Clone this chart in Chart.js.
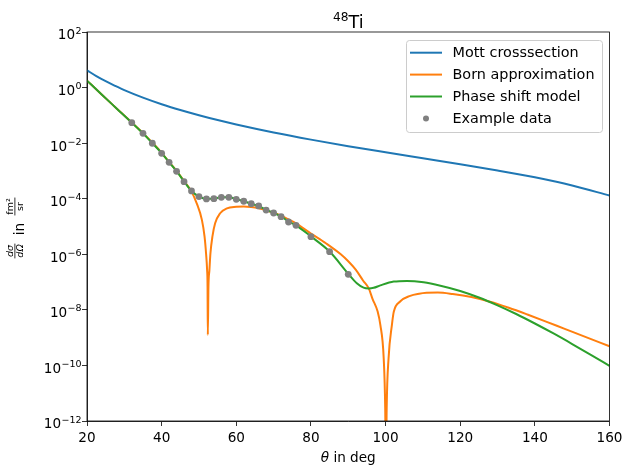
<!DOCTYPE html>
<html lang="en">
<head>
<meta charset="UTF-8">
<title>48Ti</title>
<style>
  body { margin: 0; background: #fff; }
  canvas { display: block; }
</style>
</head>
<body>
<canvas id="grafico" width="625" height="468"></canvas>

<script src="https://cdn.jsdelivr.net/npm/chart.js"></script>
<script>
// valores (theta en grados, seccion eficaz en fm^2/sr)
const mottTheta  = [20, 22.5, 25, 27.5, 30, 35, 40, 45, 50, 55, 60, 70, 80, 90, 100, 110, 120, 130, 140, 150, 160];
const mottValues = [4.2, 2.59, 1.70, 1.16, 0.81, 0.435, 0.252, 0.156, 0.101, 0.0676, 0.0469, 0.0242, 0.0134,
                    0.0078, 0.0047, 0.00286, 0.00174, 0.00104, 0.00059, 0.00030, 0.00013];

const bornTheta  = [20, 24, 28, 32, 35, 38, 40, 42, 44, 46, 48, 49.4, 50.8, 51.5, 51.9, 52.18, 52.3, 52.37,
                    52.54, 52.8, 53.07, 53.6, 54.33, 55.67, 57.5, 60, 62, 64, 66, 68, 70, 72, 74, 76, 80, 84,
                    88, 90, 92, 94, 95.5, 96.5, 97.9, 98.6, 99.5, 99.9, 100.1, 100.3, 100.8, 101.7, 102.2,
                    103.9, 106.6, 109, 111, 114, 118, 123, 128, 133, 138, 143, 148, 153, 160];
const bornValues = [1.78, 0.55, 0.174, 0.055, 0.0229, 8.9e-3, 4.5e-3, 2.1e-3, 1.0e-3, 4.3e-4, 1.8e-4, 6.8e-5,
                    1.7e-5, 4.3e-6, 1.07e-6, 2.7e-7, 6.8e-8, 1.26e-9, 6.8e-8, 2.7e-7, 1.07e-6, 4.3e-6, 1.3e-5,
                    3.0e-5, 4.5e-5, 5.1e-5, 5.25e-5, 5.0e-5, 4.5e-5, 3.8e-5, 3.1e-5, 2.45e-5, 1.8e-5, 1.29e-5,
                    5.6e-6, 2.5e-6, 1.0e-6, 5.6e-7, 2.8e-7, 1.12e-7, 5.9e-8, 2.5e-8, 8.5e-9, 2.9e-9, 1.8e-10,
                    3e-12, 1e-14, 3e-12, 1.8e-10, 2.9e-9, 8.5e-9, 2.0e-8, 3.2e-8, 3.8e-8, 4.1e-8, 4.2e-8,
                    3.72e-8, 2.9e-8, 1.96e-8, 1.19e-8, 6.8e-9, 3.78e-9, 2.07e-9, 1.14e-9, 4.9e-10];

const phaseTheta  = [20, 24, 28, 32, 35, 37.5, 40, 42, 44, 46, 48, 50, 52, 54, 56, 58, 60, 62, 64, 66, 68, 70,
                     72, 74, 76, 80, 85, 90, 92.3, 94.1, 95.5, 96.8, 98.6, 102.2, 105.7, 110.2, 114.7, 120,
                     125, 130, 135, 140, 145, 150, 155, 160];
const phaseValues = [1.78, 0.55, 0.174, 0.055, 0.0226, 0.01, 4.4e-3, 2.04e-3, 9.8e-4, 4.2e-4, 1.9e-4, 1.2e-4,
                     1.0e-4, 1.02e-4, 1.12e-4, 1.12e-4, 9.8e-5, 8.1e-5, 6.6e-5, 5.4e-5, 4.0e-5, 3.1e-5, 2.3e-5,
                     1.5e-5, 1.1e-5, 4.4e-6, 1.26e-6, 2.0e-7, 9.1e-8, 6.3e-8, 5.9e-8, 6.2e-8, 7.6e-8, 1.04e-7,
                     1.1e-7, 9.8e-8, 7.4e-8, 4.8e-8, 2.79e-8, 1.46e-8, 7.1e-9, 3.23e-9, 1.41e-9, 5.9e-10,
                     2.41e-10, 9.7e-11];

const dataTheta  = [32, 35, 37.5, 40, 42, 44, 46, 48, 50, 52, 54, 56, 58, 60, 62, 64, 66, 68, 70, 72, 74, 76, 80, 85, 90];
const dataValues = [0.0545, 0.0226, 9.9e-3, 4.3e-3, 2.04e-3, 9.7e-4, 4.1e-4, 1.9e-4, 1.19e-4, 9.8e-5, 1.0e-4,
                    1.12e-4, 1.12e-4, 9.5e-5, 8.1e-5, 6.6e-5, 5.5e-5, 3.9e-5, 3.06e-5, 2.26e-5, 1.45e-5, 1.1e-5,
                    4.3e-6, 1.24e-6, 1.9e-7];

const seriesLabels = ['Mott crosssection', 'Born approximation', 'Phase shift model', 'Example data'];
const xTicks = [20, 40, 60, 80, 100, 120, 140, 160];
const yTicks = [1e2, 1e0, 1e-2, 1e-4, 1e-6, 1e-8, 1e-10, 1e-12];
const yTickExponents = ['2', '0', '\u22122', '\u22124', '\u22126', '\u22128', '\u221210', '\u221212'];

const FONT = '"DejaVu Sans", sans-serif';

function pares(xs, ys) {
  return xs.map((x, i) => ({ x: x, y: ys[i] }));
}

function fraccion(ctx, cx, arriba, abajo, estilo) {
  ctx.font = estilo + '9.5px ' + FONT;
  const w = Math.max(ctx.measureText(arriba).width, ctx.measureText(abajo).width) + 1.5;
  ctx.textAlign = 'center';
  ctx.fillText(arriba, cx, -10.2);
  ctx.fillText(abajo, cx, -0.8);
  ctx.fillRect(cx - w / 2, -9.0, w, 0.8);
}

const decoraciones = {
  id: 'decoraciones',
  afterDraw(chart) {
    const ctx = chart.ctx;
    const area = chart.chartArea;
    const yScale = chart.scales.y;
    const cx = (area.left + area.right) / 2;
    ctx.save();

    // marco
    ctx.strokeStyle = '#000';
    ctx.lineWidth = 0.8;
    ctx.strokeRect(area.left, area.top, area.right - area.left, area.bottom - area.top);

    // etiquetas eje y: 10^n
    ctx.fillStyle = '#000';
    ctx.textBaseline = 'alphabetic';
    ctx.textAlign = 'left';
    yTicks.forEach((v, i) => {
      const py = yScale.getPixelForValue(v);
      const right = area.left - 5.5;
      ctx.font = '9.5px ' + FONT;
      const expW = ctx.measureText(yTickExponents[i]).width;
      ctx.fillText(yTickExponents[i], right - expW, py + 1.5);
      ctx.font = '13.6px ' + FONT;
      const baseW = ctx.measureText('10').width;
      ctx.fillText('10', right - expW - baseW - 0.3, py + 7.4);
    });

    // titulo
    ctx.font = '17.5px ' + FONT;
    const wTi = ctx.measureText('Ti').width;
    ctx.font = '12.2px ' + FONT;
    const w48 = ctx.measureText('48').width;
    const t0 = cx - (wTi + w48) / 2;
    ctx.fillText('48', t0, 21);
    ctx.font = '17.5px ' + FONT;
    ctx.fillText('Ti', t0 + w48, 28);

    // titulo eje x
    ctx.font = 'italic 13.6px ' + FONT;
    const wTh = ctx.measureText('\u03b8').width;
    ctx.font = '13.6px ' + FONT;
    const wRest = ctx.measureText(' in deg').width;
    const x0 = cx - (wTh + wRest) / 2;
    ctx.font = 'italic 13.6px ' + FONT;
    ctx.fillText('\u03b8', x0, 462);
    ctx.font = '13.6px ' + FONT;
    ctx.fillText(' in deg', x0 + wTh, 462);

    // titulo eje y (girado)
    ctx.save();
    ctx.translate(23.5, (area.top + area.bottom) / 2 + 2.5);
    ctx.rotate(-Math.PI / 2);
    fraccion(ctx, -22, 'd\u03c3', 'd\u03a9', 'italic ');
    ctx.font = '13.6px ' + FONT;
    ctx.textAlign = 'center';
    ctx.fillText('in', 0, 0);
    fraccion(ctx, 22.5, 'fm\u00b2', 'sr', '');
    ctx.restore();

    // leyenda
    const lx = 406, ly = 40, lw = 196, lh = 92;
    ctx.beginPath();
    ctx.roundRect(lx + 0.5, ly + 0.5, lw, lh, 3);
    ctx.fillStyle = 'rgba(255,255,255,0.8)';
    ctx.fill();
    ctx.strokeStyle = '#cccccc';
    ctx.lineWidth = 1;
    ctx.stroke();
    ctx.font = '14.4px ' + FONT;
    ctx.textAlign = 'left';
    ctx.textBaseline = 'middle';
    chart.data.datasets.forEach((ds, i) => {
      const yy = 52.7 + i * 21.9;
      if (ds.showLine === false) {
        ctx.beginPath();
        ctx.arc(426, yy, 3, 0, Math.PI * 2);
        ctx.fillStyle = ds.backgroundColor;
        ctx.fill();
      } else {
        ctx.beginPath();
        ctx.moveTo(410, yy);
        ctx.lineTo(442, yy);
        ctx.strokeStyle = ds.borderColor;
        ctx.lineWidth = 2;
        ctx.stroke();
      }
      ctx.fillStyle = '#000';
      ctx.fillText(ds.label, 452.5, yy + 1);
    });
    ctx.restore();
  }
};

const lienzo = document.querySelector('#grafico');

const grafico = new Chart(lienzo, {
  type: 'line',
  data: {
    datasets: [
      {
        label: seriesLabels[0],
        data: pares(mottTheta, mottValues),
        borderColor: '#1f77b4',
        borderWidth: 2,
        pointRadius: 0,
        cubicInterpolationMode: 'monotone',
        order: 3
      },
      {
        label: seriesLabels[1],
        data: pares(bornTheta, bornValues),
        borderColor: '#ff7f0e',
        borderWidth: 2,
        pointRadius: 0,
        cubicInterpolationMode: 'monotone',
        order: 2
      },
      {
        label: seriesLabels[2],
        data: pares(phaseTheta, phaseValues),
        borderColor: '#2ca02c',
        borderWidth: 2,
        pointRadius: 0,
        cubicInterpolationMode: 'monotone',
        order: 1
      },
      {
        type: 'scatter',
        label: seriesLabels[3],
        data: pares(dataTheta, dataValues),
        showLine: false,
        backgroundColor: '#808080',
        borderColor: '#808080',
        borderWidth: 0,
        pointRadius: 3.4,
        order: 0
      }
    ]
  },
  options: {
    responsive: false,
    animation: false,
    events: [],
    devicePixelRatio: 1,
    layout: { padding: { top: 32, right: 15.5, left: 0, bottom: 0 } },
    plugins: {
      legend: { display: false },
      tooltip: { enabled: false },
      title: { display: false }
    },
    scales: {
      x: {
        type: 'linear',
        min: 20,
        max: 160,
        afterBuildTicks: s => { s.ticks = xTicks.map(v => ({ value: v })); },
        afterFit: s => { s.height = 47; s.paddingRight = 15.5; },
        ticks: { color: '#000', font: { family: FONT, size: 13.6 }, padding: 4, maxRotation: 0, autoSkip: false },
        grid: { drawOnChartArea: false, color: '#000', lineWidth: 0.8, tickLength: 5 },
        border: { display: true, color: '#000', width: 0.8 }
      },
      y: {
        type: 'logarithmic',
        min: 1e-12,
        max: 1e2,
        afterBuildTicks: s => { s.ticks = yTicks.map(v => ({ value: v })); },
        afterFit: s => { s.width = 87; },
        ticks: { callback: () => '', autoSkip: false },
        grid: { drawOnChartArea: false, color: '#000', lineWidth: 0.8, tickLength: 5 },
        border: { display: true, color: '#000', width: 0.8 }
      }
    }
  },
  plugins: [decoraciones]
});
</script>
</body>
</html>
